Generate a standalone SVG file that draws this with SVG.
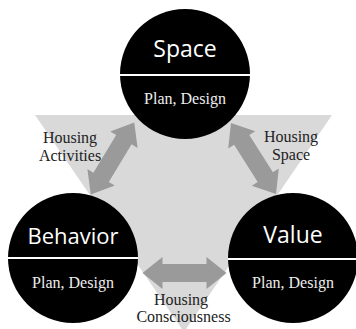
<svg xmlns="http://www.w3.org/2000/svg" width="356" height="329" viewBox="0 0 356 329">
<style>
.bg{fill:#d9d9d9}
.arr{fill:#9a9a9a}
.circ{fill:#000}
.div{stroke:#fff;stroke-width:2}
.title{font-family:"Open Sans","Noto Sans",sans-serif;font-size:23px;fill:#fff;text-anchor:middle}
.sub{font-family:"Liberation Serif",serif;font-size:16px;fill:#eeeeee;text-anchor:middle}
.lbl{font-family:"Liberation Serif",serif;font-size:16px;fill:#222;text-anchor:middle}
</style>
<defs>
<path id="dbl" d="M-42,0 L-22,-16 L-22,-9 L22,-9 L22,-16 L42,0 L22,16 L22,9 L-22,9 L-22,16 Z"/>
</defs>
<rect width="356" height="329" fill="#fff"/>
<polygon class="bg" points="35,115 332,115 184,332"/>
<g id="connectors">
<use href="#dbl" class="arr" transform="translate(112.5,158.5) rotate(-58.8)"/>
<use href="#dbl" class="arr" transform="translate(253.5,158.5) rotate(57.6)"/>
<use href="#dbl" class="arr" transform="translate(184.5,273)"/>
<text class="lbl" x="70" y="143">Housing</text>
<text class="lbl" x="70" y="161">Activities</text>
<text class="lbl" x="291" y="142">Housing</text>
<text class="lbl" x="291" y="160">Space</text>
<text class="lbl" x="181" y="305">Housing</text>
<text class="lbl" x="183.5" y="322">Consciousness</text>
</g>
<g id="space">
<circle class="circ" cx="185" cy="74" r="65"/>
<line class="div" x1="120" y1="75" x2="250" y2="75"/>
<text class="title" x="185" y="57">Space</text>
<text class="sub" x="185" y="104">Plan, Design</text>
</g>
<g id="behavior">
<circle class="circ" cx="73" cy="258" r="65"/>
<line class="div" x1="8" y1="258" x2="138" y2="258"/>
<text class="title" x="73" y="244" style="font-size:22px">Behavior</text>
<text class="sub" x="73" y="288">Plan, Design</text>
</g>
<g id="value">
<circle class="circ" cx="293" cy="258" r="65"/>
<line class="div" x1="228" y1="259" x2="358" y2="259"/>
<text class="title" x="293" y="243">Value</text>
<text class="sub" x="293" y="288">Plan, Design</text>
</g>
</svg>
